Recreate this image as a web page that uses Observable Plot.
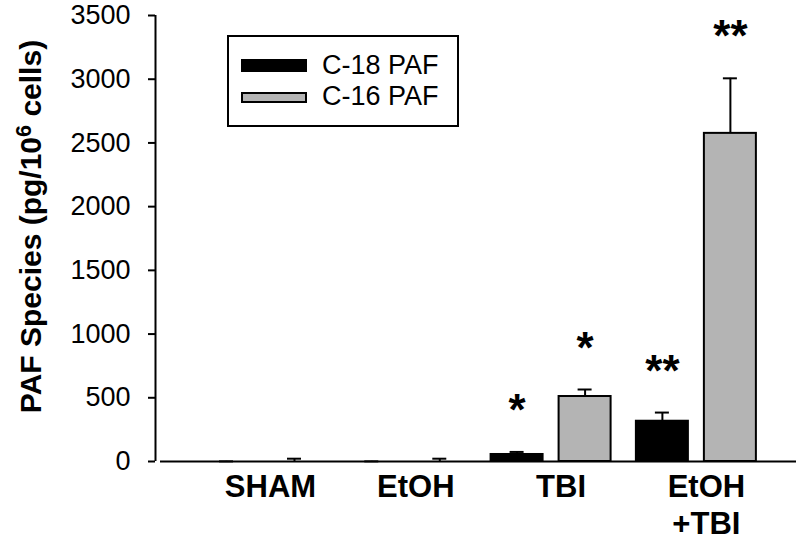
<!DOCTYPE html>
<html>
<head>
<meta charset="utf-8">
<script src="https://cdn.jsdelivr.net/npm/d3@7"></script>
<script src="https://cdn.jsdelivr.net/npm/@observablehq/plot@0.6"></script>
<style>
  body { margin: 0; background: #fff; }
  #wrap { position: relative; width: 800px; height: 544px; font-family: "Liberation Sans", Arial, sans-serif; }
  #legend { position: absolute; left: 227px; top: 35px; width: 232px; height: 92px; box-sizing: border-box; border: 2px solid #000; background: #fff; }
  .sw { position: absolute; left: 12px; width: 66px; box-sizing: border-box; }
  .lt { position: absolute; left: 93px; font-size: 27px; line-height: 30px; color: #000; white-space: nowrap; }
</style>
</head>
<body>
<div id="wrap"></div>
<script>
// ---- data ----
const groups = ["SHAM", "EtOH", "TBI", "EtOH\n+TBI"];
const series = ["C-18 PAF", "C-16 PAF"];
const c18Mean = [0, 0, 55, 316];
const c18Err  = [1, 1, 20, 68];
const c16Mean = [0, 0, 510, 2575];
const c16Err  = [22, 22, 55, 432];
const c18Sig  = ["", "", "*", "**"];
const c16Sig  = ["", "", "*", "**"];
const yTicks  = [0, 500, 1000, 1500, 2000, 2500, 3000, 3500];
const colors  = ["#000000", "#b4b4b4"];
const yLabel  = ["PAF Species (pg/10", "6", " cells)"];

// ---- table ----
const rows = groups.flatMap((g, i) => [
  {group: g, gi: i, s: 0, series: series[0], mean: c18Mean[i], err: c18Err[i], sig: c18Sig[i]},
  {group: g, gi: i, s: 1, series: series[1], mean: c16Mean[i], err: c16Err[i], sig: c16Sig[i]}
]);

// ---- layout (in group units on a linear x scale) ----
const GROUP_PX = 145.3;
const OFF = 34 / GROUP_PX;     // bar centre offset from group centre
const HW  = 26 / GROUP_PX;     // bar half width
const CAP = 7 / GROUP_PX;      // error-cap half width
const X_MIN = -0.7226, X_MAX = 3.689;
const barPos = d => d.gi + (d.s === 0 ? -OFF : OFF);
const errTop = d => d.mean + d.err;

const font = '"Liberation Sans", Arial, sans-serif';

const chart = Plot.plot({
  width: 800,
  height: 544,
  marginLeft: 155,
  marginRight: 4,
  marginTop: 15,
  marginBottom: 83,
  style: {fontFamily: font, color: "#000", background: "#fff", overflow: "visible"},
  x: {type: "linear", domain: [X_MIN, X_MAX], axis: null},
  y: {domain: [0, 3500], axis: null},
  marks: [
    Plot.rectY(rows, {
      x1: d => barPos(d) - HW, x2: d => barPos(d) + HW, y1: 0, y2: "mean",
      fill: d => colors[d.s], stroke: "#000", strokeWidth: 2
    }),
    Plot.ruleX(rows, {x: barPos, y1: "mean", y2: errTop, stroke: "#000", strokeWidth: 2}),
    Plot.ruleY(rows, {y: errTop, x1: d => barPos(d) - CAP, x2: d => barPos(d) + CAP, stroke: "#000", strokeWidth: 2}),
    Plot.ruleY([0], {insetLeft: 5, stroke: "#000", strokeWidth: 2}),
    Plot.ruleX([X_MIN], {y1: 0, y2: 3500, stroke: "#000", strokeWidth: 2}),
    Plot.axisY({ticks: yTicks, tickSize: 7, tickPadding: 18, fontSize: 27, strokeWidth: 2, tickFormat: d => String(d), label: null}),
    Plot.text([yLabel.join("")], {
      text: d => d, frameAnchor: "left", textAnchor: "middle", rotate: -90, dx: -124, dy: -12,
      fontSize: 30, fontWeight: "bold", fill: "#000", className: "ylab"
    }),
    Plot.text(groups, {
      x: (d, i) => i, y: 0, text: d => d, dx: 10, dy: 9, lineAnchor: "top", lineHeight: 1.2,
      fontSize: 31, fontWeight: "bold", fill: "#000"
    }),
    Plot.text(rows.filter(d => d.sig), {
      x: barPos, y: errTop, text: "sig", dy: -41, fontSize: 44, fontWeight: "bold", fill: "#000"
    })
  ]
});

// superscript in the y label
const lab = d3.select(chart).select("g.ylab text");
if (!lab.empty()) {
  lab.text(null);
  lab.append("tspan").text(yLabel[0]);
  lab.append("tspan").attr("dy", "-0.45em").attr("font-size", "0.72em").text(yLabel[1]);
  lab.append("tspan").attr("dy", "0.32em").text(yLabel[2]);
}

const wrap = document.getElementById("wrap");
wrap.appendChild(chart);

// legend inside the plot area
const legend = document.createElement("div");
legend.id = "legend";
const swTops = [22, 55], swH = [13, 11], txtTops = [13, 44];
series.forEach((s, i) => {
  const sw = document.createElement("div");
  sw.className = "sw";
  sw.style.top = swTops[i] + "px";
  sw.style.height = swH[i] + "px";
  sw.style.background = colors[i];
  sw.style.border = "2px solid #000";
  legend.appendChild(sw);
  const t = document.createElement("div");
  t.className = "lt";
  t.style.top = txtTops[i] + "px";
  t.textContent = s;
  legend.appendChild(t);
});
wrap.appendChild(legend);
</script>
</body>
</html>
